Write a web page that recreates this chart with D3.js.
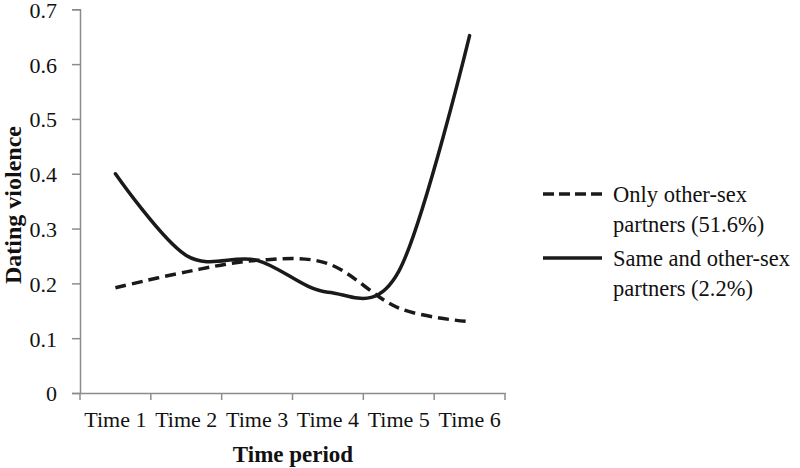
<!DOCTYPE html>
<html><head><meta charset="utf-8">
<script src="https://cdn.jsdelivr.net/npm/d3@7"></script>
<style>body{margin:0;background:#fff}svg{display:block}</style>
</head><body>
<svg id="c" width="800" height="468"></svg>
<script>
const categories = ["Time 1","Time 2","Time 3","Time 4","Time 5","Time 6"];
const onlyOtherSex = [0.192,0.221,0.242,0.236,0.155,0.13];
const sameAndOtherSex = [0.40,0.251,0.242,0.184,0.222,0.652];
const yTicks = [0,0.1,0.2,0.3,0.4,0.5,0.6,0.7];
const seriesNames = [["Only other-sex","partners (51.6%)"],["Same and other-sex","partners (2.2%)"]];

const svg = d3.select("#c");
const FONT = '"Liberation Serif", serif';
const x = d3.scaleBand().domain(categories).range([80,505]);
const y = d3.scaleLinear().domain([0,0.7]).range([393,9.3]);

function txt(sel, size, bold){
  sel.style("font-family", FONT).style("font-size", size+"px")
     .style("font-weight", bold ? "bold" : "normal").attr("fill","#111");
}

// y axis
const ya = svg.append("g").attr("transform","translate(80,0)")
  .call(d3.axisLeft(y).tickValues(yTicks).tickSize(8).tickPadding(15).tickFormat(d=>d===0?"0":d3.format(".1f")(d)));
ya.select(".domain").attr("stroke","#8c8c8c").attr("stroke-width",1.5);
ya.selectAll(".tick line").attr("stroke","#8c8c8c").attr("stroke-width",1.5);
ya.selectAll("text").call(txt,22,false).attr("dy","0.36em");

// x axis
const xa = svg.append("g").attr("transform","translate(0,393)")
  .call(d3.axisBottom(x).tickSize(0).tickPadding(18));
xa.select(".domain").attr("stroke","#8c8c8c").attr("stroke-width",1.5);
xa.selectAll("text").call(txt,22,false);
// tick marks at band boundaries
const bounds = categories.map(c=>x(c)).concat([x.range()[1]]);
svg.append("g").selectAll("line").data(bounds).join("line")
  .attr("x1",d=>d).attr("x2",d=>d).attr("y1",393).attr("y2",400)
  .attr("stroke","#8c8c8c").attr("stroke-width",1.5);

const cx = c => x(c)+x.bandwidth()/2;
const line = d3.line().x((d,i)=>cx(categories[i])).y(d=>y(d)).curve(d3.curveCatmullRom.alpha(0));

svg.append("path").datum(onlyOtherSex).attr("d",line).attr("fill","none")
  .attr("stroke","#1a1a1a").attr("stroke-width",3.5).attr("stroke-dasharray","11,6");
svg.append("path").datum(sameAndOtherSex).attr("d",line).attr("fill","none")
  .attr("stroke","#1a1a1a").attr("stroke-width",3.5).attr("stroke-linecap","round");

// axis titles
svg.append("text").attr("x",293).attr("y",462).attr("text-anchor","middle")
  .call(txt,23,true).text("Time period");
svg.append("text").attr("transform","translate(21,205) rotate(-90)").attr("text-anchor","middle")
  .call(txt,24,true).text("Dating violence");

// legend
const leg = svg.append("g");
const legY = [194,258];
seriesNames.forEach((lines,i)=>{
  leg.append("line").attr("x1",543).attr("x2",602).attr("y1",legY[i]).attr("y2",legY[i])
    .attr("stroke","#1a1a1a").attr("stroke-width",3.5).attr("stroke-dasharray",i===0?"11,5":null);
  lines.forEach((t,j)=>{
    leg.append("text").attr("x",613).attr("y",legY[i]+8+j*30)
      .call(txt,22.5,false).text(t);
  });
});
</script>
</body></html>
